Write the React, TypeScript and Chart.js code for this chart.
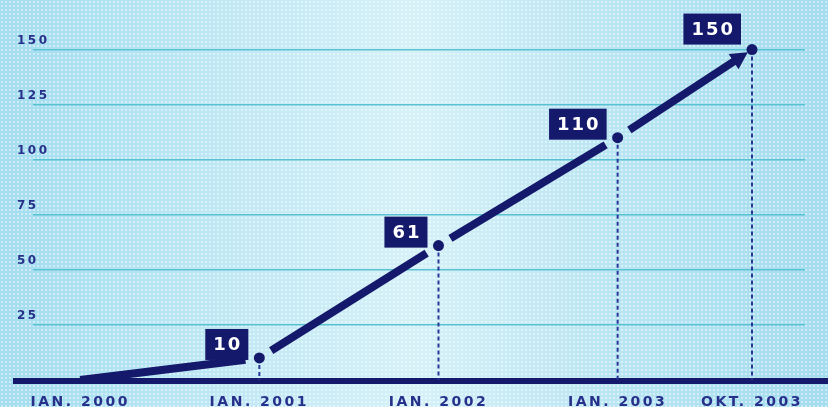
import React, { useEffect, useRef } from 'react';
import { Chart, registerables } from 'chart.js';

Chart.register(...registerables);

// ---- data ----
const xLabels = ['IAN. 2000', 'IAN. 2001', 'IAN. 2002', 'IAN. 2003', 'OKT. 2003'];
const months = [0, 12, 24, 36, 45]; // months since Jan 2000
const values = [0, 10, 61, 110, 150];
const valueLabels = ['', '10', '61', '110', '150'];
const yTicks = [25, 50, 75, 100, 125, 150];

const NAVY = '#15196b';
const DROP = '#28369a';
const TEXT = '#27308a';

const backgroundPlugin = {
  id: 'bgPattern',
  beforeDraw(chart: any) {
    const ctx = chart.ctx as CanvasRenderingContext2D;
    const w = chart.width;
    const h = chart.height;
    ctx.save();
    const g = ctx.createLinearGradient(0, 0, w, 0);
    g.addColorStop(0, '#a3ddef');
    g.addColorStop(0.3, '#c2e9f5');
    g.addColorStop(0.5, '#d5f1f8');
    g.addColorStop(0.72, '#bbe6f3');
    g.addColorStop(1, '#a3dcef');
    ctx.fillStyle = g;
    ctx.fillRect(0, 0, w, h);
    const tile = document.createElement('canvas');
    tile.width = 4;
    tile.height = 4;
    const tctx = tile.getContext('2d')!;
    tctx.fillStyle = 'rgba(255,255,255,0.45)';
    tctx.fillRect(1, 1, 2, 2);
    const pat = ctx.createPattern(tile, 'repeat');
    if (pat) {
      ctx.fillStyle = pat;
      ctx.fillRect(0, 0, w, h);
    }
    ctx.restore();
    (ctx as any).letterSpacing = '2.5px';
  },
  beforeDatasetsDraw(chart: any) {
    const ctx = chart.ctx as CanvasRenderingContext2D;
    const y0 = chart.scales.y.getPixelForValue(0);
    ctx.save();
    ctx.fillStyle = NAVY;
    ctx.fillRect(13, y0 - 2, chart.width - 13, 6);
    ctx.restore();
  },
  afterDatasetsDraw(chart: any) {
    const ctx = chart.ctx as CanvasRenderingContext2D;
    const meta = chart.getDatasetMeta(0);
    const pts = meta.data.map((e: any) => ({ x: e.x, y: e.y }));
    ctx.save();
    ctx.strokeStyle = NAVY;
    ctx.fillStyle = NAVY;
    ctx.lineWidth = 8;
    ctx.lineCap = 'butt';
    for (let i = 0; i < pts.length - 1; i++) {
      const a = pts[i];
      const b = pts[i + 1];
      const dx = b.x - a.x;
      const dy = b.y - a.y;
      const len = Math.hypot(dx, dy);
      const ux = dx / len;
      const uy = dy / len;
      const last = i === pts.length - 2;
      const g0 = i === 0 ? 0 : 14;
      const g1 = last ? 5 : 14;
      const sx = a.x + ux * g0;
      const sy = a.y + uy * g0;
      const ex = b.x - ux * g1;
      const ey = b.y - uy * g1;
      if (last) {
        const head = 17;
        const half = 9;
        const bx = ex - ux * head;
        const by = ey - uy * head;
        ctx.beginPath();
        ctx.moveTo(sx, sy);
        ctx.lineTo(bx + ux * 2, by + uy * 2);
        ctx.stroke();
        ctx.beginPath();
        ctx.moveTo(ex, ey);
        ctx.lineTo(bx - uy * half, by + ux * half);
        ctx.lineTo(bx + uy * half, by - ux * half);
        ctx.closePath();
        ctx.fill();
      } else {
        ctx.beginPath();
        ctx.moveTo(sx, sy);
        ctx.lineTo(ex, ey);
        ctx.stroke();
      }
    }
    // value boxes
    ctx.font = 'bold 18px "DejaVu Sans"';
    (ctx as any).letterSpacing = '2px';
    ctx.textBaseline = 'middle';
    ctx.textAlign = 'center';
    for (let i = 1; i < pts.length; i++) {
      const p = pts[i];
      const txt = valueLabels[i];
      const w = ctx.measureText(txt).width + 14;
      const h = 31;
      const right = p.x - 11;
      const bottom = i === pts.length - 1 ? p.y - 5 : p.y + 2;
      ctx.fillStyle = NAVY;
      ctx.fillRect(right - w, bottom - h, w, h);
      ctx.fillStyle = '#ffffff';
      ctx.fillText(txt, right - w / 2 + 1, bottom - h / 2 + 1);
    }
    ctx.restore();
    (ctx as any).letterSpacing = '2.5px';
  },
};

export default function App() {
  const ref = useRef<HTMLCanvasElement>(null);
  useEffect(() => {
    const mainData = months.map((m, i) => ({ x: m, y: values[i] }));
    const drops = months.slice(1).map((m, k) => ({
      type: 'line' as const,
      data: [
        { x: m, y: values[k + 1] },
        { x: m, y: 0 },
      ],
      borderColor: DROP,
      borderWidth: 2,
      borderDash: [4, 3],
      pointRadius: 0,
      order: 1,
    }));
    const chart = new Chart(ref.current!, {
      type: 'line',
      data: {
        datasets: [
          {
            data: mainData,
            showLine: false,
            pointRadius: values.map((v, i) => (i === 0 ? 0 : 5.5)),
            pointBackgroundColor: NAVY,
            pointBorderColor: NAVY,
            pointBorderWidth: 0,
            order: 0,
          },
          ...drops,
        ],
      },
      options: {
        animation: false,
        responsive: true,
        maintainAspectRatio: false,
        layout: { padding: { top: 1, left: 8, right: 23, bottom: 0 } },
        plugins: { legend: { display: false }, tooltip: { enabled: false } },
        elements: { line: { tension: 0 } },
        scales: {
          x: {
            type: 'linear',
            min: -3.16,
            max: 48.55,
            afterBuildTicks: (scale: any) => {
              scale.ticks = months.map((v) => ({ value: v }));
            },
            afterFit: (scale: any) => {
              scale.height = 27;
            },
            grid: { display: false, drawTicks: false },
            border: { display: false },
            ticks: {
              autoSkip: false,
              maxRotation: 0,
              padding: 14,
              color: TEXT,
              font: { family: '"DejaVu Sans"', weight: 'bold', size: 14 },
              callback: (_v: any, i: number) => xLabels[i],
            },
          },
          y: {
            type: 'linear',
            min: 0,
            max: 170,
            afterBuildTicks: (scale: any) => {
              scale.ticks = yTicks.map((v) => ({ value: v }));
            },
            afterFit: (scale: any) => {
              scale.width = 25;
            },
            grid: { color: '#58c2d2', lineWidth: 1.5, drawTicks: false },
            border: { display: false },
            ticks: {
              mirror: true,
              crossAlign: 'near',
              padding: -16,
              labelOffset: -9,
              color: TEXT,
              font: { family: '"DejaVu Sans"', weight: 'bold', size: 12 },
            },
          },
        },
      },
      plugins: [backgroundPlugin],
    } as any);
    return () => chart.destroy();
  }, []);
  return (
    <div style={{ position: 'fixed', left: 0, top: 0, width: 828, height: 407 }}>
      <canvas ref={ref} />
    </div>
  );
}
